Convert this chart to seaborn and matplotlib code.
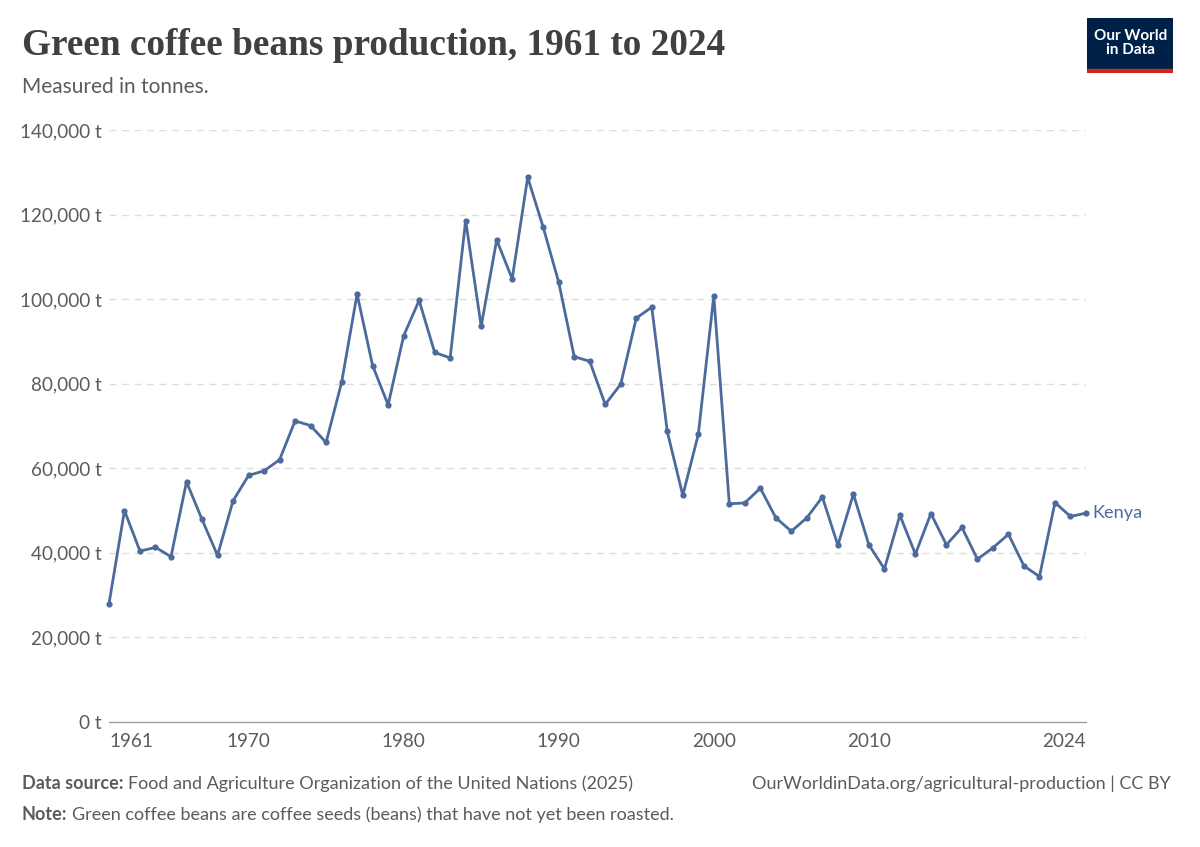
import numpy as np
import pandas as pd
import matplotlib
matplotlib.use("Agg")
import matplotlib.pyplot as plt
import seaborn as sns

years = list(range(1961, 2025))
production = [
    27900, 50000, 40400, 41300, 39100, 56800, 47900, 39400, 52300, 58300,
    59400, 62000, 71200, 70100, 66100, 80300, 101200, 84300, 75000, 91300,
    99700, 87400, 86100, 118600, 93600, 114000, 104800, 128800, 117000, 104000,
    86400, 85300, 75100, 79900, 95500, 98100, 68700, 53600, 68000, 100800,
    51600, 51800, 55300, 48300, 45100, 48300, 53200, 41800, 53900, 41900,
    36200, 48900, 39700, 49300, 41900, 46000, 38500, 41200, 44400, 36900,
    34400, 51900, 48600, 49400,
]
country = "Kenya"
tick_years = [1961, 1970, 1980, 1990, 2000, 2010, 2024]
y_ticks = [0, 20000, 40000, 60000, 80000, 100000, 120000, 140000]

df = pd.DataFrame({"year": years, "tonnes": production, "entity": country})

sns.set_theme(style="white")
plt.rcParams["font.family"] = ["Lato", "DejaVu Sans"]

blue = "#4c6a9c"
grey_text = "#5b5b5b"

fig = plt.figure(figsize=(12, 8.47), dpi=100)
ax = fig.add_axes([0.0908, 0.1476, 0.8142, 0.6989])

sns.lineplot(data=df, x="year", y="tonnes", color=blue, linewidth=2.0,
             marker="o", markersize=4.5, markeredgewidth=0, ax=ax)
for ln in ax.lines:
    ln.set_clip_on(False)

ax.set_xlim(1961, 2024)
ax.set_ylim(0, 140000)
ax.set_yticks(y_ticks)
ax.set_yticklabels([f"{v:,} t" for v in y_ticks])
ax.set_xticks(tick_years)
ax.set_xticklabels([str(y) for y in tick_years])
ax.set_xlabel("")
ax.set_ylabel("")

for v in y_ticks[1:]:
    ax.axhline(v, color="#dddddd", linewidth=1, linestyle=(0, (5, 4)), zorder=0)

for side in ["top", "right", "left"]:
    ax.spines[side].set_visible(False)
ax.spines["bottom"].set_color("#a0a0a0")
ax.spines["bottom"].set_linewidth(1)

ax.tick_params(axis="y", length=0, labelsize=13.6, labelcolor=grey_text, pad=5)
ax.tick_params(axis="x", length=5, width=1, color="#a0a0a0", direction="out",
               labelsize=13.6, labelcolor=grey_text, pad=3)
xlabels = ax.get_xticklabels()
xlabels[0].set_horizontalalignment("left")
xlabels[-1].set_horizontalalignment("right")

ax.text(2024.4, production[-1], country, color=blue, fontsize=13.1,
        va="center", ha="left")

fig.text(0.0183, 0.946, "Green coffee beans production, 1961 to 2024",
         fontsize=26.8, family=["Liberation Serif", "DejaVu Serif"],
         fontweight="bold", color="#404040", va="center")
fig.text(0.0183, 0.897, "Measured in tonnes.", fontsize=15,
         color=grey_text, va="center")

renderer = fig.canvas.get_renderer()
fw = fig.get_figwidth() * fig.dpi


def label_pair(x, y, bold, rest):
    t = fig.text(x, y, bold, fontsize=13, fontweight="bold",
                 color=grey_text, va="center")
    w = t.get_window_extent(renderer=renderer).width / fw
    fig.text(x + w + 0.004, y, rest, fontsize=13, color=grey_text, va="center")


label_pair(0.0183, 0.075, "Data source:",
           "Food and Agriculture Organization of the United Nations (2025)")
label_pair(0.0183, 0.0385, "Note:",
           "Green coffee beans are coffee seeds (beans) that have not yet been roasted.")
fig.text(0.976, 0.075, "OurWorldinData.org/agricultural-production | CC BY",
         fontsize=13, color=grey_text, va="center", ha="right")

logo = fig.add_axes([0.906, 0.914, 0.0717, 0.065])
logo.set_xlim(0, 1)
logo.set_ylim(0, 1)
logo.axis("off")
logo.add_patch(plt.Rectangle((0, 0.07), 1, 0.93, color="#002147"))
logo.add_patch(plt.Rectangle((0, 0), 1, 0.07, color="#ce261e"))
logo.text(0.5, 0.55, "Our World\nin Data", color="white", fontsize=11,
          fontweight="bold", ha="center", va="center", linespacing=1.0)

fig.savefig("out.png", dpi=100, facecolor="white")
